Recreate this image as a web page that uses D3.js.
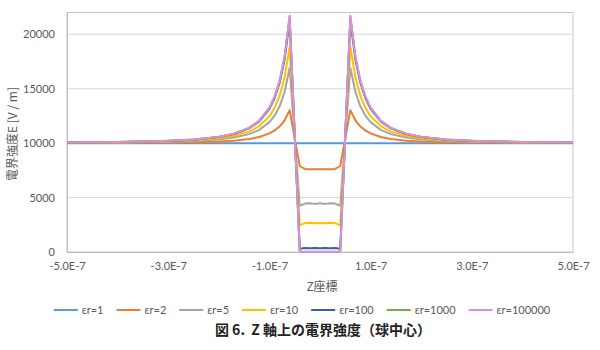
<!DOCTYPE html>
<html>
<head>
<meta charset="utf-8">
<script src="https://cdnjs.cloudflare.com/ajax/libs/d3/7.8.5/d3.min.js"></script>
<style>
  body { margin: 0; background: #fff; }
  svg { display: block; }
  .tick text { font-family: Lato, 'Noto Sans CJK JP', sans-serif; font-size: 11px; fill: #595959; }
  .jp { font-family: 'Noto Sans CJK JP', sans-serif; fill: #595959; }
</style>
</head>
<body>
<svg id="svg" width="600" height="350"></svg>
<script>
// z position [m]
const zPos = [
  -5.0e-7, -4.5e-7, -4.0e-7, -3.5e-7, -3.0e-7, -2.5e-7, -2.0e-7, -1.7e-7, -1.4e-7, -1.2e-7,
  -1.0e-7, -0.9e-7, -0.8e-7, -0.7e-7, -0.6e-7,
  -0.4e-7, -0.3e-7, -0.2e-7, -0.1e-7, 0, 0.1e-7, 0.2e-7, 0.3e-7, 0.4e-7,
  0.6e-7, 0.7e-7, 0.8e-7, 0.9e-7, 1.0e-7,
  1.2e-7, 1.4e-7, 1.7e-7, 2.0e-7, 2.5e-7, 3.0e-7, 3.5e-7, 4.0e-7, 4.5e-7, 5.0e-7
];

const seriesNames = ['εr=1', 'εr=2', 'εr=5', 'εr=10', 'εr=100', 'εr=1000', 'εr=100000'];
const colors = ['#5B9BD5', '#ED7D31', '#A5A5A5', '#FFC000', '#3A5FB0', '#70AD47', '#DB8FDB'];

const er1 = [
  10000, 10000, 10000, 10000, 10000, 10000, 10000, 10000, 10000, 10000,
  10000, 10000, 10000, 10000, 10000,
  10000, 10000, 10000, 10000, 10000, 10000, 10000, 10000, 10000,
  10000, 10000, 10000, 10000, 10000,
  10000, 10000, 10000, 10000, 10000, 10000, 10000, 10000, 10000, 10000
];
const er2 = [
  10015, 10020, 10025, 10035, 10055, 10085, 10150, 10230, 10380, 10560,
  10900, 11150, 11520, 12080, 13030,
  7900, 7630, 7600, 7600, 7600, 7600, 7600, 7630, 7900,
  13030, 12080, 11520, 11150, 10900,
  10560, 10380, 10230, 10150, 10085, 10055, 10035, 10025, 10020, 10015
];
const er5 = [
  10035, 10045, 10060, 10085, 10120, 10195, 10340, 10510, 10830, 11220,
  11930, 12500, 13360, 14690, 16900,
  4250, 4450, 4480, 4420, 4470, 4420, 4480, 4450, 4250,
  16900, 14690, 13360, 12500, 11930,
  11220, 10830, 10510, 10340, 10195, 10120, 10085, 10060, 10045, 10035
];
const er10 = [
  10045, 10060, 10075, 10110, 10160, 10250, 10435, 10655, 11060, 11570,
  12470, 13210, 14310, 16020, 18850,
  2450, 2650, 2680, 2640, 2660, 2640, 2680, 2650, 2450,
  18850, 16020, 14310, 13210, 12470,
  11570, 11060, 10655, 10435, 10250, 10160, 10110, 10075, 10060, 10045
];
const er100 = [
  10055, 10075, 10100, 10140, 10200, 10320, 10560, 10840, 11360, 12000,
  13150, 14100, 15500, 17680, 21300,
  300, 360, 340, 360, 340, 360, 340, 360, 300,
  21300, 17680, 15500, 14100, 13150,
  12000, 11360, 10840, 10560, 10320, 10200, 10140, 10100, 10075, 10055
];
const er1000 = [
  10060, 10075, 10100, 10140, 10210, 10330, 10575, 10860, 11400, 12060,
  13250, 14230, 15670, 17920, 21650,
  30, 30, 30, 30, 30, 30, 30, 30, 30,
  21650, 17920, 15670, 14230, 13250,
  12060, 11400, 10860, 10575, 10330, 10210, 10140, 10100, 10075, 10060
];
const er100000 = [
  10060, 10075, 10100, 10145, 10210, 10330, 10575, 10870, 11400, 12070,
  13260, 14250, 15700, 17960, 21700,
  0, 0, 0, 0, 0, 0, 0, 0, 0,
  21700, 17960, 15700, 14250, 13260,
  12070, 11400, 10870, 10575, 10330, 10210, 10145, 10100, 10075, 10060
];
const allSeries = [er1, er2, er5, er10, er100, er1000, er100000];

const xTicks = [-5e-7, -3e-7, -1e-7, 1e-7, 3e-7, 5e-7];
const yTicks = [0, 5000, 10000, 15000, 20000];

const svg = d3.select('#svg');
const plot = {left: 67, right: 573, top: 12.5, bottom: 252};

const xScale = d3.scaleLinear()
                .domain([-5e-7, 5e-7])
                .range([plot.left, plot.right]);
const yScale = d3.scaleLinear()
                .domain([0, 22000])
                .range([plot.bottom, plot.top]);

// gridlines
svg.append('g')
    .selectAll('line').data(yTicks.slice(1))
    .enter()
    .append('line')
    .attr('x1', plot.left).attr('x2', plot.right)
    .attr('y1', function(d) { return yScale(d); })
    .attr('y2', function(d) { return yScale(d); })
    .attr('stroke', '#d9d9d9')
    .attr('stroke-width', 1);

// plot border
svg.append('rect')
    .attr('x', plot.left).attr('y', plot.top)
    .attr('width', plot.right - plot.left)
    .attr('height', plot.bottom - plot.top)
    .attr('fill', 'none')
    .attr('stroke', '#c8c8c8')
    .attr('stroke-width', 1);

// axes
const xAxis = svg.append('g')
                .attr('transform', 'translate(0,' + plot.bottom + ')')
                .call(d3.axisBottom(xScale)
                    .tickValues(xTicks)
                    .tickSize(0)
                    .tickPadding(10)
                    .tickFormat(function(d) { return (d * 1e7).toFixed(1) + 'E-7'; }));
xAxis.select('.domain').attr('stroke', '#bfbfbf');

const yAxis = svg.append('g')
                .attr('transform', 'translate(' + plot.left + ',0)')
                .call(d3.axisLeft(yScale)
                    .tickValues(yTicks)
                    .tickSize(0)
                    .tickPadding(12)
                    .tickFormat(d3.format('d')));
yAxis.select('.domain').attr('stroke', '#bfbfbf');

// lines
const line = d3.line()
                .x(function(d, i) { return xScale(zPos[i]); })
                .y(function(d) { return yScale(d); });

svg.append('g')
    .selectAll('path').data(allSeries)
    .enter()
    .append('path')
    .attr('d', line)
    .attr('fill', 'none')
    .attr('stroke', function(d, i) { return colors[i]; })
    .attr('stroke-width', 2)
    .attr('stroke-linejoin', 'round');

// axis titles
svg.append('text')
    .classed('jp', true)
    .attr('transform', 'translate(17,134) rotate(-90)')
    .attr('text-anchor', 'middle')
    .style('font-size', '12px')
    .text('電界強度E [V / m]');

svg.append('text')
    .classed('jp', true)
    .attr('x', 322).attr('y', 291)
    .attr('text-anchor', 'middle')
    .style('font-size', '12px')
    .text('Z座標');

// legend
const legend = svg.append('g');
let lx = 0;
seriesNames.forEach(function(name, i) {
    const item = legend.append('g').attr('transform', 'translate(' + lx + ',0)');
    item.append('line')
        .attr('x1', 0).attr('x2', 24)
        .attr('y1', 0).attr('y2', 0)
        .attr('stroke', colors[i])
        .attr('stroke-width', 2);
    const t = item.append('text')
        .attr('x', 28).attr('y', 4)
        .style('font-family', 'Lato, sans-serif')
        .style('font-size', '11px')
        .style('fill', '#595959')
        .text(name);
    lx += 28 + t.node().getComputedTextLength() + 13;
});
lx -= 13;
legend.attr('transform', 'translate(' + (302 - lx / 2) + ',310)');

// caption
svg.append('text')
    .attr('x', 323).attr('y', 335)
    .attr('text-anchor', 'middle')
    .style('white-space', 'pre')
    .style('font-family', "'Noto Sans CJK JP', sans-serif")
    .style('font-weight', 'bold')
    .style('font-size', '14px')
    .style('fill', '#222')
    .text('図 6.  Z 軸上の電界強度（球中心）');
</script>
</body>
</html>
